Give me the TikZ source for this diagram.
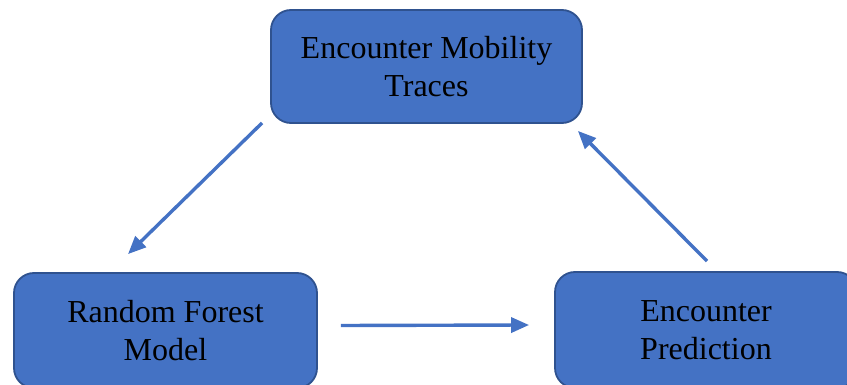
\documentclass[tikz,border=0pt]{standalone}
\usepackage{fontspec}
\setmainfont{Liberation Serif}
\usetikzlibrary{arrows.meta}
\definecolor{boxblue}{HTML}{4472C4}
\definecolor{boxedge}{HTML}{2F528F}
\tikzset{
  >={Triangle[length=18pt,width=15pt]},
}
\tikzstyle{block}=[draw=boxedge,fill=boxblue,line width=1.8pt,rounded corners=20pt,
  align=center,font=\fontsize{32}{38}\selectfont]
\tikzstyle{flow}=[draw=boxblue,line width=3.4pt,->]
\begin{document}
\begin{tikzpicture}[x=1pt,y=-1pt]
        \useasboundingbox (0,0) rectangle (847,385);
        \node[block,minimum width=311pt,minimum height=113pt] (traces) at (426.5,66.5)
          {Encounter Mobility\\Traces};
        \node[block,minimum width=303pt,minimum height=115pt] (model) at (165.5,330.5)
          {Random Forest\\Model};
        \node[block,minimum width=302pt,minimum height=116pt] (pred) at (706,330)
          {Encounter\\Prediction};
        \draw[flow] ([shift={(-8,-1)}]traces.south west) -- ([shift={(-37.5,-18)}]model.north);
        \draw[flow] ([shift={(23,-5)}]model.east) -- ([shift={(-25,-5)}]pred.west);
        \draw[flow] ([shift={(1,-10)}]pred.north) -- ([shift={(-5,7)}]traces.south east);
      \end{tikzpicture}
\end{document}
